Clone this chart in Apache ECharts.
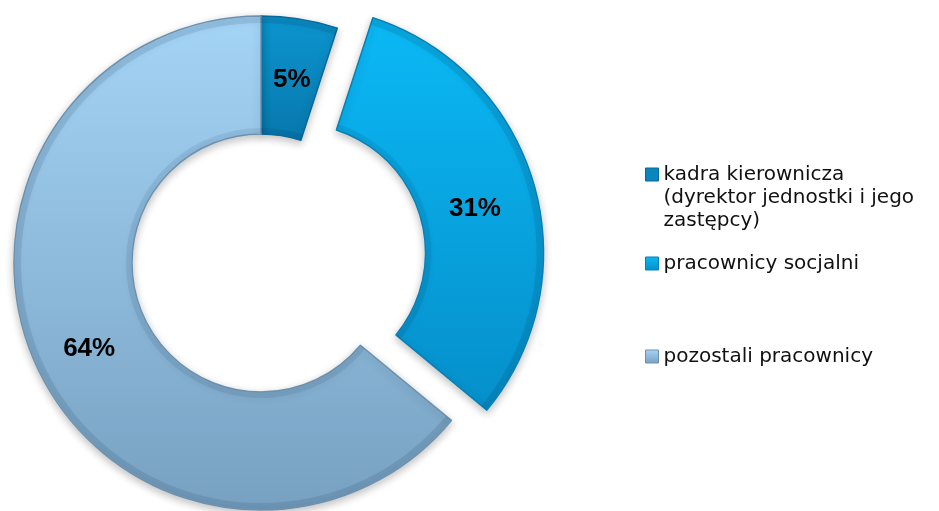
<!DOCTYPE html>
<html>
<head>
<meta charset="utf-8">
<script src="https://cdn.jsdelivr.net/npm/echarts@6/dist/echarts.min.js"></script>
<style>
  html, body { margin: 0; padding: 0; background: #fff; }
  #chart { width: 939px; height: 511px; }
</style>
</head>
<body>
<div id="chart"></div>
<script>
const categories = [
  "kadra kierownicza\n(dyrektor jednostki i jego\nzastępcy)",
  "pracownicy socjalni",
  "pozostali pracownicy"
];
const values = [5, 31, 64];
const exploded = [false, true, false];

// face gradient top/bottom + edge colour per slice
const faceTop = ["#0c95cf", "#0bb9f5", "#a4d4f6"];
const faceBottom = ["#0778ad", "#058fca", "#78a1c1"];
const edges = ["#06699a", "#0680b6", "#6c91ae"];

function grad(i) {
  return new echarts.graphic.LinearGradient(0, 0, 0, 1, [
    { offset: 0, color: faceTop[i] },
    { offset: 1, color: faceBottom[i] }
  ]);
}

const chart = echarts.init(document.getElementById("chart"));

const pieData = categories.map((name, i) => {
  const style = {
    color: grad(i),
    borderColor: edges[i],
    borderWidth: 1.5,
    shadowBlur: 8,
    shadowColor: "rgba(0,0,0,0.25)",
    shadowOffsetY: 3
  };
  return {
    name: name,
    value: values[i],
    selected: exploded[i],
    itemStyle: style,
    select: { itemStyle: style, label: { offset: [-5, 9] } }
  };
});

// thin darker bands on the rims, a rough stand-in for the bevel
function bandData(alpha) {
  return categories.map((name, i) => {
    const st = { color: "rgba(0,30,60," + alpha + ")", borderWidth: 0 };
    return {
      name: name,
      value: values[i],
      selected: exploded[i],
      itemStyle: st,
      select: { itemStyle: st }
    };
  });
}

function bandSeries(radius, alpha) {
  return {
    type: "pie",
    center: [261, 263],
    radius: radius,
    startAngle: 90,
    clockwise: true,
    selectedMode: "single",
    selectedOffset: 37,
    silent: true,
    emphasis: { disabled: true },
    label: { show: false },
    labelLine: { show: false },
    data: bandData(alpha)
  };
}

const textBase = {
  fontFamily: "DejaVu Sans",
  fontSize: 20,
  lineHeight: 23,
  color: "#111"
};

function legendFor(i, top, extra) {
  return Object.assign({
    orient: "vertical",
    left: 645,
    top: top,
    padding: 0,
    itemWidth: 13,
    itemHeight: 13,
    itemGap: 5,
    selectedMode: false,
    icon: "rect",
    data: [categories[i]],
    itemStyle: { borderColor: edges[i], borderWidth: 1, shadowBlur: 0 },
    textStyle: textBase
  }, extra || {});
}

chart.setOption({
  animation: false,
  legend: [
    // first entry wraps on three lines: taller icon box keeps the square on line one
    legendFor(0, 163, {
      itemHeight: 59,
      icon: "path://M0,0H13V13H0Z M0,59",
      itemStyle: { color: "#0a86bf", borderColor: edges[0], borderWidth: 1, shadowBlur: 0 }
    }),
    legendFor(1, 252),
    legendFor(2, 345)
  ],
  series: [
    {
      type: "pie",
      center: [261, 263],
      radius: [129, 247],
      startAngle: 90,
      clockwise: true,
      selectedMode: "single",
      selectedOffset: 37,
      avoidLabelOverlap: false,
      emphasis: { disabled: true },
      label: {
        show: true,
        position: "inside",
        formatter: "{c}%",
        fontFamily: "Liberation Sans",
        fontWeight: "bold",
        fontSize: 26,
        color: "#000",
        offset: [1, 5]
      },
      labelLine: { show: false },
      data: pieData
    },
    bandSeries([240, 246], 0.1),
    bandSeries([130, 135], 0.08)
  ]
});
</script>
</body>
</html>
